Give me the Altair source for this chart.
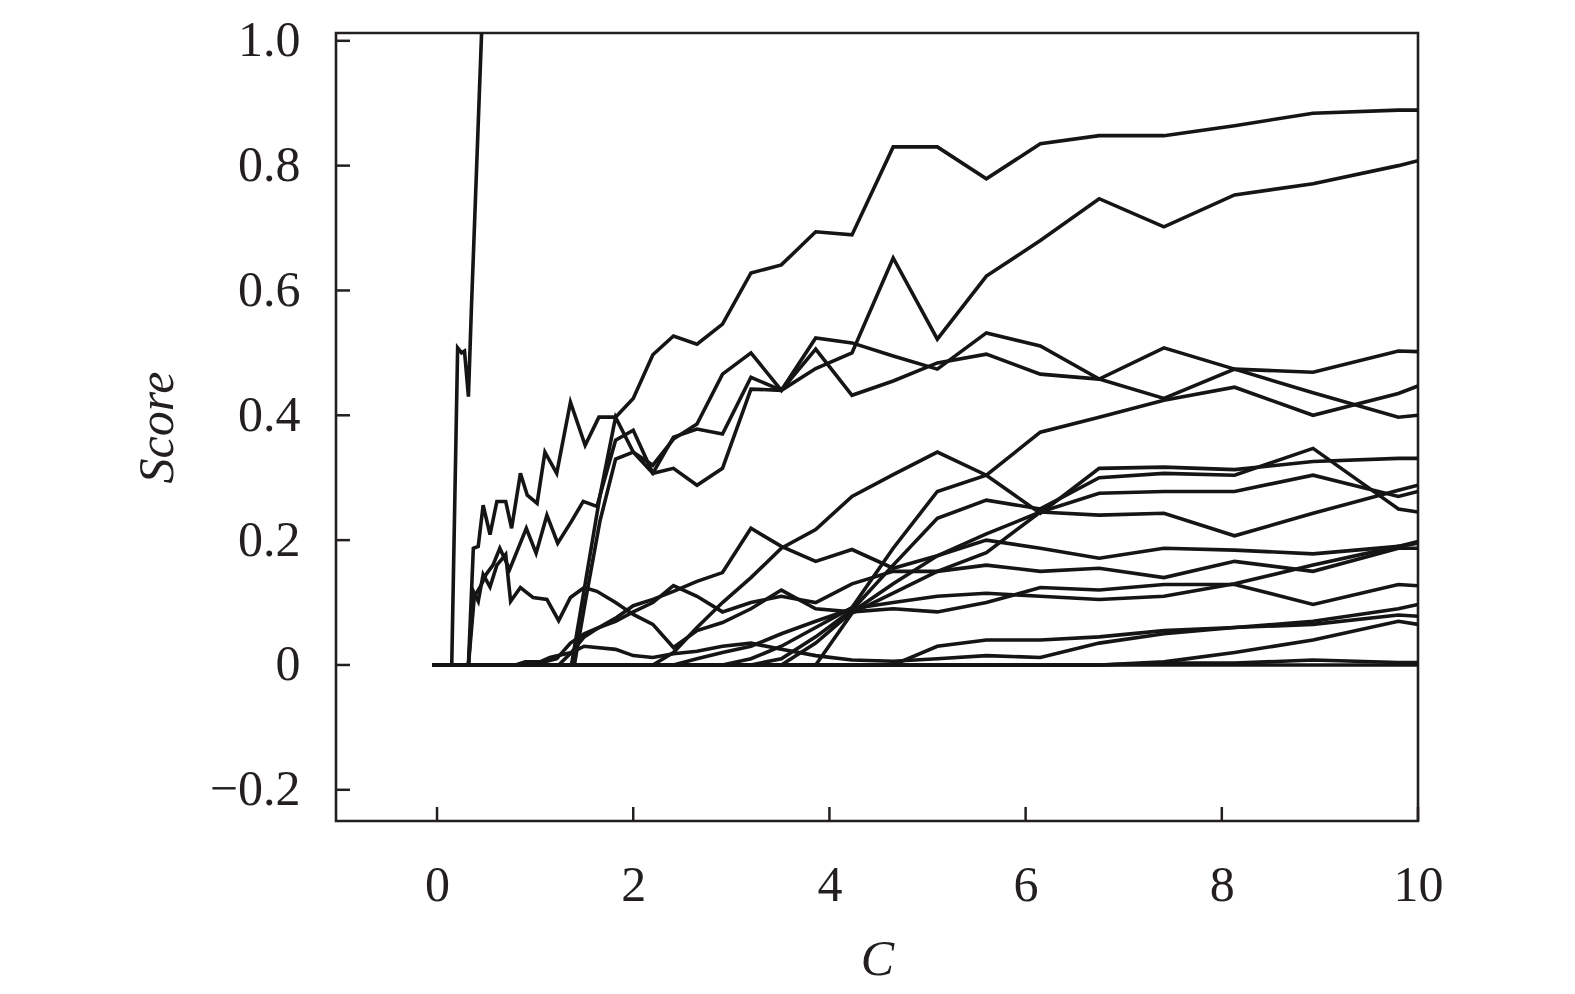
import altair as alt
import pandas as pd

# shared C grid (log-spaced knots of the regularisation path)
C_GRID = [1.82, 2.00, 2.20, 2.41, 2.65, 2.91, 3.20, 3.51, 3.86, 4.23, 4.65,
          5.10, 5.60, 6.15, 6.75, 7.41, 8.13, 8.93, 9.80, 10.0]

X_TICKS = [0, 2, 4, 6, 8, 10]
Y_TICKS = [-0.2, 0.0, 0.2, 0.4, 0.6, 0.8, 1.0]

# --- individual paths: early knots + values on C_GRID from a start index ---
spike_c = [-0.05, 0.15, 0.21, 0.25, 0.28, 0.32, 0.35, 0.39, 0.43, 0.47]
spike_s = [0, 0, 0.508, 0.50, 0.503, 0.43, 0.57, 0.74, 0.91, 1.08]

top_c = [-0.05, 0.32, 0.37, 0.42, 0.47, 0.54, 0.61, 0.70, 0.76, 0.85, 0.92,
         1.02, 1.10, 1.22, 1.36, 1.51, 1.65]
top_s = [0, 0, 0.187, 0.19, 0.256, 0.209, 0.262, 0.262, 0.219, 0.307, 0.272,
         0.259, 0.341, 0.307, 0.421, 0.352, 0.397]
top_t = [0.397, 0.427, 0.497, 0.527, 0.514, 0.546, 0.628, 0.641, 0.694, 0.689,
         0.830, 0.830, 0.779, 0.835, 0.848, 0.848, 0.864, 0.884, 0.889, 0.889]

b_c = [-0.05, 0.32, 0.38, 0.44, 0.50, 0.57, 0.64, 0.74, 0.91, 1.01, 1.12,
       1.23, 1.37, 1.49, 1.63]
b_s = [0, 0, 0.11, 0.125, 0.145, 0.16, 0.187, 0.153, 0.219, 0.179, 0.240,
       0.195, 0.23, 0.262, 0.254]
b_t = [0.36, 0.376, 0.307, 0.315, 0.288, 0.315, 0.442, 0.44, 0.475, 0.50,
       0.652, 0.522, 0.623, 0.68, 0.747, 0.702, 0.753, 0.771, 0.80, 0.808]

c1_c = [-0.05, 1.37, 1.51, 1.66]
c1_s = [0, 0, 0.13, 0.27]
c1_t = [0.397, 0.341, 0.32, 0.362, 0.386, 0.466, 0.50, 0.44, 0.524, 0.516,
        0.495, 0.474, 0.532, 0.511, 0.458, 0.508, 0.474, 0.436, 0.397, 0.40]

c2_c = [-0.05, 1.40, 1.51, 1.66]
c2_s = [0, 0, 0.10, 0.23]
c2_t = [0.33, 0.341, 0.307, 0.365, 0.378, 0.37, 0.461, 0.44, 0.506, 0.432,
        0.455, 0.484, 0.498, 0.466, 0.458, 0.427, 0.474, 0.469, 0.503, 0.502]

e_c = [-0.05, 0.32, 0.37, 0.42, 0.47, 0.54, 0.61, 0.70, 0.75, 0.85, 0.98,
       1.12, 1.24, 1.36, 1.50, 1.63]
e_s = [0, 0, 0.118, 0.102, 0.145, 0.125, 0.16, 0.177, 0.102, 0.124, 0.108,
       0.105, 0.071, 0.108, 0.124, 0.118]
e_t = [0.10, 0.081, 0.065, 0.028, 0.055, 0.068, 0.09, 0.12, 0.09, 0.085,
       0.09, 0.085, 0.10, 0.124, 0.12, 0.129, 0.129, 0.097, 0.129, 0.127]

f_c = [-0.05, 1.00, 1.10, 1.22, 1.36, 1.50, 1.65]
f_s = [0, 0, 0.005, 0.01, 0.035, 0.05, 0.06]
f_t = [0.075, 0.095, 0.105, 0.118, 0.134, 0.148, 0.219, 0.19, 0.166, 0.185,
       0.155, 0.175, 0.20, 0.187, 0.171, 0.187, 0.184, 0.178, 0.19, 0.198]

g_c = [-0.05]
g_s = [0]
g_t = [0, 0.02, 0.06, 0.10, 0.14, 0.187, 0.217, 0.27, 0.305, 0.341, 0.304,
       0.243, 0.315, 0.317, 0.313, 0.326, 0.331, 0.331]          # from C_GRID[2]

c3_c = [-0.05]
c3_s = [0]
c3_t = [0, 0.01, 0.03, 0.06, 0.092, 0.187, 0.278, 0.304, 0.373, 0.397,
        0.424, 0.445, 0.40, 0.435, 0.447]                         # from C_GRID[5]

r2_c = [-0.05]
r2_s = [0]
r2_t = [0, 0.01, 0.045, 0.088, 0.16, 0.235, 0.264, 0.25, 0.30, 0.307,
        0.304, 0.347, 0.25, 0.245]                                # from C_GRID[6]

r3_c = [-0.05]
r3_s = [0]
r3_t = [0, 0.035, 0.085, 0.13, 0.175, 0.21, 0.245, 0.275, 0.278, 0.278,
        0.304, 0.27, 0.278]                                       # from C_GRID[7]

r4_c = [-0.05]
r4_s = [0]
r4_t = [0, 0.083, 0.115, 0.15, 0.18, 0.245, 0.24, 0.243, 0.207, 0.243,
        0.28, 0.288]                                              # from C_GRID[8]

h_c = [-0.05, 1.24, 1.37, 1.50, 1.65]
h_s = [0, 0, 0.02, 0.045, 0.06]
h_t = [0.07, 0.085, 0.10, 0.127, 0.11, 0.085, 0.10, 0.11, 0.10, 0.13,
       0.15, 0.15, 0.16, 0.15, 0.155, 0.14, 0.166, 0.15, 0.187, 0.187]

l1_c = [-0.05, 0.80, 0.90, 1.05, 1.15, 1.37, 1.50]
l1_s = [0, 0, 0.005, 0.005, 0.012, 0.02, 0.03]
l1_t = [0.025, 0.015, 0.012, 0.018, 0.022, 0.03, 0.035, 0.025, 0.015, 0.008,
        0.006, 0.01, 0.015, 0.012, 0.035, 0.05, 0.06, 0.07, 0.09, 0.097]

l2_c = [-0.05]
l2_s = [0]
l2_t = [0, 0.03, 0.04, 0.04, 0.045, 0.055, 0.06, 0.065, 0.08, 0.078]   # from C_GRID[10]

l3_c = [-0.05]
l3_s = [0]
l3_t = [0, 0.005, 0.02, 0.04, 0.07, 0.065]                          # from C_GRID[14]

l4_c = [-0.05]
l4_s = [0]
l4_t = [0, 0.003, 0.003, 0.008, 0.004, 0.004]                       # from C_GRID[14]

l5_c = [-0.05]
l5_s = [0]
l5_t = [0, 0]                                                       # from C_GRID[18]

l6_c = [-0.05]
l6_s = [0]
l6_t = [0, 0.01, 0.02, 0.03, 0.05, 0.07, 0.09, 0.10, 0.11, 0.115,
        0.11, 0.105, 0.11, 0.13, 0.16, 0.19, 0.195]                 # from C_GRID[3]

paths = [
    ("spike", spike_c, spike_s, None, None),
    ("top", top_c, top_s, 0, top_t),
    ("b", b_c, b_s, 0, b_t),
    ("c1", c1_c, c1_s, 0, c1_t),
    ("c2", c2_c, c2_s, 0, c2_t),
    ("e", e_c, e_s, 0, e_t),
    ("f", f_c, f_s, 0, f_t),
    ("g", g_c, g_s, 2, g_t),
    ("c3", c3_c, c3_s, 5, c3_t),
    ("r2", r2_c, r2_s, 6, r2_t),
    ("r3", r3_c, r3_s, 7, r3_t),
    ("r4", r4_c, r4_s, 8, r4_t),
    ("h", h_c, h_s, 0, h_t),
    ("l1", l1_c, l1_s, 0, l1_t),
    ("l2", l2_c, l2_s, 10, l2_t),
    ("l3", l3_c, l3_s, 14, l3_t),
    ("l4", l4_c, l4_s, 14, l4_t),
    ("l5", l5_c, l5_s, 18, l5_t),
    ("l6", l6_c, l6_s, 3, l6_t),
]

rows = []
for name, cc, ss, k, tail in paths:
    xs = list(cc)
    ys = list(ss)
    if tail is not None:
        xs += C_GRID[k:k + len(tail)]
        ys += tail
    for i, (x, y) in enumerate(zip(xs, ys)):
        rows.append({"path": name, "C": x, "Score": y, "order": i})
df = pd.DataFrame(rows)

W, H = 1082, 788
FONT = "Liberation Serif, Times New Roman, serif"
INK = "#231f20"
FS = 50

xscale = alt.Scale(domain=[-1.03, 10], nice=False, zero=False)
yscale = alt.Scale(domain=[-0.25, 1.0125], nice=False, zero=False)

lines = alt.Chart(df).mark_line(color="#151515", strokeWidth=3.6, clip=True).encode(
    x=alt.X("C:Q", scale=xscale,
            axis=alt.Axis(values=X_TICKS, format="d", title="C", grid=False,
                          ticks=False, domain=False, labelFlush=False,
                          labelFont=FONT, labelFontSize=FS, labelColor=INK,
                          labelPadding=39, titleFont=FONT, titleFontSize=FS,
                          titleFontStyle="italic", titleFontWeight="normal",
                          titleColor=INK, titlePadding=24)),
    y=alt.Y("Score:Q", scale=yscale,
            axis=alt.Axis(values=Y_TICKS, title="Score", grid=False, ticks=False,
                          domain=False, labelFlush=False, labelFont=FONT,
                          labelFontSize=FS, labelColor=INK, labelPadding=36,
                          labelExpr="datum.value == 0 ? '0' : format(datum.value, '.1f')",
                          titleFont=FONT, titleFontSize=FS, titleFontStyle="italic",
                          titleFontWeight="normal", titleColor=INK,
                          titlePadding=27)),
    detail="path:N",
    order="order:Q",
)

xt = alt.Chart(pd.DataFrame({"v": X_TICKS})).mark_rule(color=INK, strokeWidth=2.5).encode(
    x=alt.X("v:Q", scale=xscale), y=alt.value(H), y2=alt.value(H - 14))
yt = alt.Chart(pd.DataFrame({"v": Y_TICKS})).mark_rule(color=INK, strokeWidth=2.5).encode(
    y=alt.Y("v:Q", scale=yscale), x=alt.value(0), x2=alt.value(14))

chart = alt.layer(lines, xt, yt).properties(
    width=W, height=H,
    background="white",
    autosize=alt.AutoSizeParams(type="none"),
    padding={"left": 328, "top": 25, "right": 100, "bottom": 172},
).configure_view(stroke=INK, strokeWidth=2.6)

chart.save("out.html", embed_options={"renderer": "svg", "actions": False})
